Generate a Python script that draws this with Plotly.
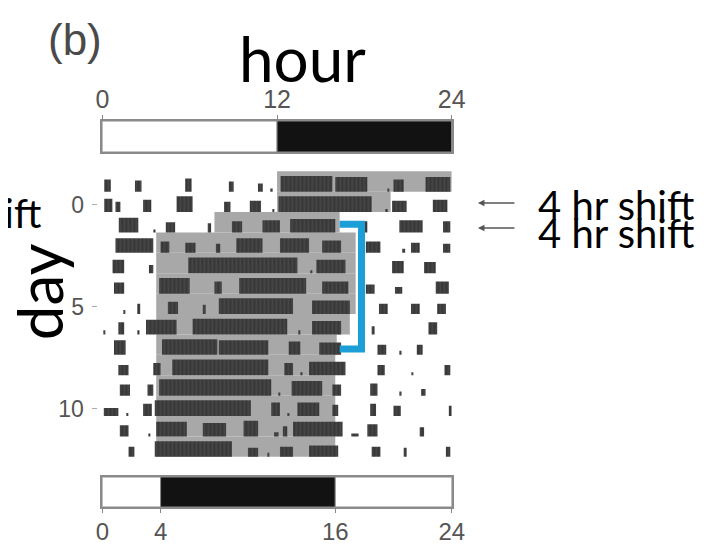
import plotly.graph_objects as go

# ---------------- data ----------------
# activity bouts per day: (start hour, end hour, relative height)
act_m1 = [(0.13, 0.58, 0.6), (2.24, 2.69, 0.55), (5.69, 6.13, 0.65), (8.69, 9.02, 0.5),
          (10.69, 11.02, 0.4), (11.6, 11.7, 0.15), (12.24, 15.8, 0.77), (16.0, 18.2, 0.72),
          (19.6, 19.7, 0.15), (20.0, 20.7, 0.6), (22.2, 23.9, 0.72)]
act_0 = [(0.13, 0.69, 0.65), (0.9, 1.24, 0.5), (2.8, 3.36, 0.6), (5.1, 6.2, 0.77),
         (8.36, 8.8, 0.5), (10.13, 10.9, 0.55), (11.7, 11.8, 0.15), (12.1, 18.5, 0.77),
         (19.5, 19.6, 0.15), (19.9, 20.9, 0.55), (22.7, 23.7, 0.6)]
act_1 = [(1.13, 2.47, 0.72), (3.55, 3.65, 0.15), (4.36, 5.0, 0.5), (7.24, 7.47, 0.45),
         (8.9, 9.6, 0.55), (11.0, 12.2, 0.6), (12.9, 16.0, 0.66), (17.6, 18.2, 0.55),
         (20.4, 22.0, 0.6), (23.4, 23.9, 0.55)]
act_2 = [(0.9, 3.5, 0.72), (4.0, 4.6, 0.55), (5.7, 6.4, 0.5), (7.8, 8.1, 0.45),
         (9.2, 11.0, 0.72), (12.2, 14.2, 0.72), (15.1, 16.4, 0.6), (18.1, 19.1, 0.55),
         (20.6, 20.8, 0.2), (21.2, 21.8, 0.5), (23.4, 23.9, 0.45)]
act_3 = [(0.7, 1.5, 0.66), (3.2, 3.5, 0.4), (5.9, 13.4, 0.77), (14.3, 14.4, 0.15),
         (14.7, 16.7, 0.66), (19.9, 20.7, 0.6), (22.1, 22.9, 0.55)]
act_4 = [(0.8, 1.5, 0.55), (3.9, 6.0, 0.77), (7.7, 8.2, 0.6), (9.4, 14.0, 0.77),
         (15.1, 16.9, 0.6), (18.1, 18.7, 0.45), (20.1, 20.6, 0.33), (22.9, 23.8, 0.6)]
act_5 = [(1.45, 1.55, 0.2), (2.4, 2.6, 0.5), (4.5, 5.2, 0.6), (6.9, 7.1, 0.45),
         (8.0, 13.1, 0.77), (14.4, 17.0, 0.66), (19.0, 19.6, 0.5), (21.2, 21.8, 0.5),
         (23.0, 23.6, 0.5)]
act_6 = [(0.1, 0.2, 0.2), (1.1, 1.5, 0.6), (2.45, 2.55, 0.2), (3.0, 5.1, 0.72),
         (6.2, 12.7, 0.77), (13.5, 13.6, 0.2), (14.4, 16.4, 0.66), (18.5, 18.7, 0.4),
         (22.4, 23.0, 0.6)]
act_7 = [(0.8, 1.6, 0.72), (4.1, 7.9, 0.77), (8.0, 11.4, 0.72), (12.8, 13.6, 0.66),
         (14.9, 16.4, 0.6), (18.9, 19.5, 0.5), (20.45, 20.55, 0.2), (21.6, 22.0, 0.5)]
act_8 = [(1.1, 1.8, 0.5), (3.5, 4.0, 0.6), (4.8, 11.4, 0.77), (12.5, 13.1, 0.6),
         (13.65, 13.75, 0.15), (14.2, 16.7, 0.66), (18.9, 19.4, 0.5), (21.25, 21.35, 0.15),
         (23.5, 23.9, 0.5)]
act_9 = [(1.2, 1.9, 0.55), (3.1, 3.5, 0.55), (3.9, 11.6, 0.8), (12.1, 12.2, 0.15),
         (13.0, 15.1, 0.72), (15.8, 16.4, 0.55), (18.4, 18.9, 0.6), (20.45, 20.55, 0.2),
         (21.9, 22.2, 0.33)]
act_10 = [(0.1, 1.1, 0.4), (1.65, 1.75, 0.15), (2.8, 3.4, 0.6), (3.6, 10.2, 0.77),
          (11.6, 12.2, 0.66), (12.75, 12.85, 0.15), (13.4, 14.9, 0.66), (15.8, 16.2, 0.55),
          (18.4, 18.8, 0.6), (20.0, 20.5, 0.5), (23.8, 24.0, 0.5)]
act_11 = [(1.2, 1.8, 0.55), (3.2, 3.3, 0.15), (3.7, 5.8, 0.72), (6.9, 8.5, 0.66),
          (9.7, 10.7, 0.77), (11.8, 12.1, 0.2), (12.4, 12.7, 0.5), (13.1, 16.5, 0.72),
          (17.1, 17.6, 0.15), (18.2, 18.9, 0.6), (21.8, 22.1, 0.45)]
act_12 = [(1.8, 2.2, 0.5), (3.6, 8.9, 0.77), (10.0, 10.7, 0.45), (11.35, 11.45, 0.2),
          (12.2, 13.1, 0.5), (14.2, 16.2, 0.55), (18.5, 19.1, 0.5), (20.7, 20.9, 0.45),
          (23.6, 23.9, 0.5)]

days = list(range(-1, 13))
activity_rows = [act_m1, act_0, act_1, act_2, act_3, act_4, act_5, act_6,
                 act_7, act_8, act_9, act_10, act_11, act_12]

# gray shading (dark phase) per day
dark_start = [12, 12, 7.7, 3.7, 3.7, 3.7, 3.7, 3.7, 3.7, 3.7, 3.7, 3.7, 3.7, 3.7]
dark_end = [24, 19.8, 16.3, 17.4, 17.4, 17.4, 17.4, 17.0, 16.1, 16.0, 16.0, 16.0, 16.0, 16.0]

# light/dark bars
top_start = [0, 12]
top_end = [12, 24]
top_state = ["light", "dark"]
bottom_start = [0, 4, 16]
bottom_end = [4, 16, 24]
bottom_state = ["light", "dark", "light"]
top_ticks = [0, 12, 24]
bottom_ticks = [0, 4, 16, 24]
day_ticks = [0, 5, 10]

# blue bracket (hours, days)
bracket_hours = [16.3, 17.8, 17.8, 16.3]
bracket_days = [0.95, 0.95, 7.06, 7.06]

# ---------------- figure ----------------
W, H = 713, 545
OFF = 8           # page body margin
BASE_OFF = 0.35   # baseline of a day's row relative to its tick


def px_x(p):
    return (p - OFF) / W


def px_y(p):
    return 1 - (p - OFF) / H


fig = go.Figure()

# gray shading
fig.add_trace(go.Bar(
    x=[(s + e) / 2 for s, e in zip(dark_start, dark_end)],
    y=[1.0] * len(days),
    base=[d - 1 + BASE_OFF for d in days],
    width=[e - s for s, e in zip(dark_start, dark_end)],
    marker=dict(color="#a8a8a8", line=dict(width=0)),
    xaxis="x", yaxis="y", showlegend=False, hoverinfo="skip"))

# activity bouts
ax_x, ax_w, ax_b, ax_h = [], [], [], []
for d, row in zip(days, activity_rows):
    for s, e, h in row:
        ax_x.append((s + e) / 2)
        ax_w.append(e - s)
        ax_b.append(d + BASE_OFF)
        ax_h.append(-h)
fig.add_trace(go.Bar(
    x=ax_x, y=ax_h, base=ax_b, width=ax_w,
    marker=dict(color="#3b3b3b", line=dict(width=0),
                pattern=dict(shape="|", fgcolor="#6a6a6a", bgcolor="#383838",
                             size=4, solidity=0.25)),
    xaxis="x", yaxis="y", showlegend=False, hoverinfo="skip"))

# bracket
fig.add_trace(go.Scatter(
    x=bracket_hours, y=bracket_days, mode="lines",
    line=dict(color="#1b9fd6", width=7),
    xaxis="x", yaxis="y", showlegend=False, hoverinfo="skip", cliponaxis=False))

state_color = {"light": "#ffffff", "dark": "#121212"}

# top LD bar
fig.add_trace(go.Bar(
    x=[e - s for s, e in zip(top_start, top_end)], base=top_start, y=[0] * len(top_start),
    orientation="h", width=1,
    marker=dict(color=[state_color[s] for s in top_state], line=dict(color="#8a8a8a", width=1)),
    xaxis="x2", yaxis="y2", showlegend=False, hoverinfo="skip"))

# bottom LD bar
fig.add_trace(go.Bar(
    x=[e - s for s, e in zip(bottom_start, bottom_end)], base=bottom_start, y=[0] * len(bottom_start),
    orientation="h", width=1,
    marker=dict(color=[state_color[s] for s in bottom_state], line=dict(color="#8a8a8a", width=1)),
    xaxis="x3", yaxis="y3", showlegend=False, hoverinfo="skip"))

xdom = [px_x(98), px_x(458)]
v_top = (165 - 204.9) / 20.4
v_bot = (462 - 204.9) / 20.4

arial = "Liberation Sans, Arial, sans-serif"

fig.update_layout(
    width=W, height=H,
    margin=dict(l=0, r=0, t=0, b=0),
    paper_bgcolor="white", plot_bgcolor="rgba(0,0,0,0)",
    barmode="overlay",
    xaxis=dict(domain=xdom, range=[0, 24], anchor="y", showticklabels=False,
               showgrid=False, zeroline=False, showline=False, ticks=""),
    yaxis=dict(domain=[px_y(462), px_y(165)], range=[v_bot, v_top], anchor="free",
               position=px_x(92), tickvals=day_ticks, ticks="outside", ticklen=5,
               ticklabelstandoff=3,
               tickcolor="#aaaaaa", tickfont=dict(family=arial, size=23, color="#555555"),
               showgrid=False, zeroline=False, showline=False),
    xaxis2=dict(domain=xdom, range=[0, 24], anchor="y2", side="top", tickvals=top_ticks,
                ticks="outside", ticklen=4, tickcolor="#888888", ticklabelstandoff=-3,
                tickfont=dict(family=arial, size=25, color="#555555"),
                showgrid=False, zeroline=False, showline=True, mirror=True,
                linecolor="#8a8a8a", linewidth=1.5),
    yaxis2=dict(domain=[px_y(152), px_y(121)], range=[-0.5, 0.5], anchor="x2",
                showticklabels=False, ticks="", showgrid=False, zeroline=False,
                showline=True, mirror=True, linecolor="#8a8a8a", linewidth=1.5),
    xaxis3=dict(domain=xdom, range=[0, 24], anchor="y3", side="bottom", tickvals=bottom_ticks,
                ticks="outside", ticklen=4, tickcolor="#888888",
                tickfont=dict(family=arial, size=24, color="#555555"),
                ticklabelstandoff=-2,
                showgrid=False, zeroline=False, showline=True, mirror=True,
                linecolor="#8a8a8a", linewidth=1.5),
    yaxis3=dict(domain=[px_y(507), px_y(477)], range=[-0.5, 0.5], anchor="x3",
                showticklabels=False, ticks="", showgrid=False, zeroline=False,
                showline=True, mirror=True, linecolor="#8a8a8a", linewidth=1.5),
)

big_font = "Lato, Carlito, Calibri, sans-serif"
annotations = [
    dict(text="(b)", x=px_x(70), y=px_y(39), xref="paper", yref="paper", showarrow=False,
         xanchor="center", yanchor="middle",
         font=dict(family=arial, size=44, color="#4a4a4a")),
    dict(text="hour", x=px_x(304), y=px_y(58), xref="paper", yref="paper", showarrow=False,
         xanchor="center", yanchor="middle", font=dict(family=big_font, size=62, color="black")),
    dict(text="day", x=px_x(33), y=px_y(292), xref="paper", yref="paper", showarrow=False,
         xanchor="center", yanchor="middle", textangle=-90,
         font=dict(family=big_font, size=62, color="black")),
    dict(text="4 hr shift", x=px_x(37), y=px_y(213), xref="paper", yref="paper", showarrow=False,
         xanchor="right", yanchor="middle", font=dict(family=big_font, size=40, color="black")),
    dict(text="4 hr shift", x=px_x(545), y=px_y(205), xref="paper", yref="paper", showarrow=False,
         xanchor="left", yanchor="middle", font=dict(family=big_font, size=40, color="black")),
    dict(text="4 hr shift", x=px_x(545), y=px_y(233), xref="paper", yref="paper", showarrow=False,
         xanchor="left", yanchor="middle", font=dict(family=big_font, size=40, color="black")),
]
for yy in (203, 228):
    annotations.append(dict(text="", x=px_x(485), y=px_y(yy), xref="paper", yref="paper",
                            showarrow=True, ax=38, ay=0, arrowhead=2, arrowsize=1,
                            arrowwidth=1.3, arrowcolor="#555555"))
fig.update_layout(annotations=annotations)

fig.write_html("out.html")
